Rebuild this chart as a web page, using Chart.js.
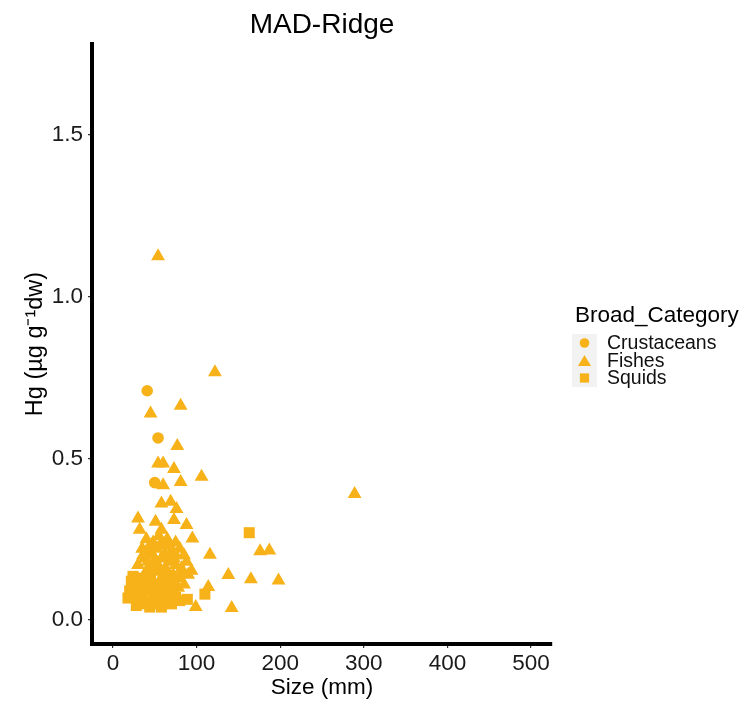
<!DOCTYPE html>
<html>
<head>
<meta charset="utf-8">
<script src="https://cdn.jsdelivr.net/npm/chart.js@4/dist/chart.umd.min.js"></script>
<style>
  html, body { margin: 0; padding: 0; background: #ffffff; }
  #wrap { width: 749px; height: 706px; position: relative; }
</style>
</head>
<body>
<div id="wrap"><canvas id="c" width="749" height="706"></canvas></div>
<script>
// ---- data ----
const chartTitle = "MAD-Ridge";
const legendTitle = "Broad_Category";
const categories = ["Crustaceans", "Fishes", "Squids"];
const xTickValues = [0, 100, 200, 300, 400, 500];
const yTickValues = [0.0, 0.5, 1.0, 1.5];

const crustSize = [41, 54, 50, 62, 44];
const crustHg   = [0.709, 0.563, 0.425, 0.20, 0.15];

const fishSize = [54, 122, 81, 45, 77, 54, 60, 73, 106, 60, 81, 58, 69, 76, 30, 51, 73, 88, 32, 58, 95, 289, 116, 176, 187, 94, 82, 138, 165, 198, 114, 99, 142,
                  40, 48, 55, 65, 75, 35, 45, 52, 62, 70, 80, 85, 38, 50, 58, 67, 75, 88, 42, 55, 63, 72, 80, 30, 46, 60, 68, 78, 35, 52, 85, 40,
                  44, 58, 68, 36, 48, 62, 73, 42, 54, 65, 48, 58, 70, 82, 90, 38, 75, 44, 64, 55];
const fishHg   = [1.125, 0.766, 0.663, 0.639, 0.538, 0.484, 0.484, 0.467, 0.443, 0.417, 0.427, 0.36, 0.366, 0.343, 0.314, 0.304, 0.309, 0.294, 0.279, 0.279, 0.252, 0.39, 0.202, 0.213, 0.215, 0.152, 0.149, 0.139, 0.126, 0.122, 0.102, 0.04, 0.037,
                  0.25, 0.24, 0.26, 0.25, 0.24, 0.22, 0.21, 0.22, 0.23, 0.21, 0.22, 0.2, 0.19, 0.18, 0.19, 0.18, 0.17, 0.18, 0.16, 0.15, 0.16, 0.14, 0.13, 0.17, 0.13, 0.12, 0.11, 0.1, 0.12, 0.1, 0.11, 0.09,
                  0.23, 0.24, 0.23, 0.2, 0.2, 0.2, 0.19, 0.18, 0.17, 0.14, 0.15, 0.13, 0.12, 0.16, 0.14, 0.14, 0.2, 0.11, 0.1, 0.08];

const squidSize = [163, 110, 89, 18, 20, 22, 24, 28, 30, 34, 38, 40, 44, 48, 52, 55, 58, 62, 65, 70, 75, 45, 60, 35,
                   26, 32, 42, 50, 56, 68, 72, 80, 28, 46];
const squidHg   = [0.27, 0.08, 0.064, 0.068, 0.09, 0.12, 0.135, 0.1, 0.06, 0.08, 0.05, 0.11, 0.04, 0.07, 0.05, 0.1, 0.04, 0.06, 0.085, 0.05, 0.07, 0.125, 0.12, 0.13,
                   0.075, 0.11, 0.09, 0.095, 0.065, 0.065, 0.09, 0.06, 0.045, 0.055];

// ---- styling ----
const pointColor = "#F6B218";
const toXY = (xs, ys) => xs.map((x, i) => ({ x: x, y: ys[i] }));
const shapes = ["circle", "triangle", "rect"];
const radii = [5.8, 8, 7.8];

const datasets = [
  { label: categories[0], data: toXY(crustSize, crustHg) },
  { label: categories[1], data: toXY(fishSize, fishHg) },
  { label: categories[2], data: toXY(squidSize, squidHg) }
].map((d, i) => Object.assign(d, {
  pointStyle: shapes[i],
  pointRadius: radii[i],
  pointHoverRadius: radii[i],
  backgroundColor: pointColor,
  borderColor: pointColor,
  borderWidth: 0,
  showLine: false
}));

const FONT = "'Liberation Sans', Arial, sans-serif";

const decorPlugin = {
  id: "decor",
  afterDraw(chart) {
    const ctx = chart.ctx;
    const ca = chart.chartArea;
    ctx.save();
    // title
    ctx.fillStyle = "#000";
    ctx.font = "28px " + FONT;
    ctx.textAlign = "center";
    ctx.textBaseline = "alphabetic";
    ctx.fillText(chartTitle, (ca.left + ca.right) / 2, 33);

    // legend
    ctx.textAlign = "left";
    ctx.font = "22.5px " + FONT;
    ctx.fillText(legendTitle, 575, 322);
    const ys = [343, 361, 378];
    ctx.fillStyle = "#F2F2F2";
    ctx.fillRect(572, 334, 25, 53);
    ctx.font = "19.5px " + FONT;
    ctx.textBaseline = "middle";
    for (let i = 0; i < categories.length; i++) {
      const cx = 584.5, cy = ys[i];
      ctx.fillStyle = pointColor;
      ctx.beginPath();
      if (i === 0) {
        ctx.arc(cx, cy, 4.8, 0, Math.PI * 2);
      } else if (i === 1) {
        ctx.moveTo(cx, cy - 6);
        ctx.lineTo(cx + 6.5, cy + 5);
        ctx.lineTo(cx - 6.5, cy + 5);
        ctx.closePath();
      } else {
        ctx.rect(cx - 4.6, cy - 4.6, 9.2, 9.2);
      }
      ctx.fill();
      ctx.fillStyle = "#111";
      ctx.fillText(categories[i], 607, cy + 1);
    }
    ctx.restore();
  }
};

new Chart(document.getElementById("c"), {
  type: "scatter",
  data: { datasets },
  options: {
    responsive: false,
    animation: false,
    events: [],
    layout: { padding: { left: 0, right: 197, top: 44, bottom: 0 } },
    plugins: {
      legend: { display: false },
      title: { display: false },
      tooltip: { enabled: false }
    },
    scales: {
      x: {
        type: "linear",
        min: -25,
        max: 525,
        afterFit(scale) { scale.height = 62; },
        afterBuildTicks(scale) { scale.ticks = xTickValues.map(v => ({ value: v })); },
        grid: { drawOnChartArea: false, drawTicks: true, tickLength: 4, color: "#333", lineWidth: 1.2 },
        border: { display: true, color: "#000", width: 4 },
        ticks: { color: "#1a1a1a", font: { family: FONT, size: 22.5 }, padding: 2, maxRotation: 0 },
        title: { display: true, text: "Size (mm)", color: "#000", font: { family: FONT, size: 22.5 }, padding: { top: 0, bottom: 5 } }
      },
      y: {
        type: "linear",
        min: -0.0742,
        max: 1.7814,
        afterFit(scale) { scale.width = 92; },
        afterBuildTicks(scale) { scale.ticks = yTickValues.map(v => ({ value: v })); },
        grid: { drawOnChartArea: false, drawTicks: true, tickLength: 4, color: "#333", lineWidth: 1.2 },
        border: { display: true, color: "#000", width: 4 },
        ticks: { color: "#1a1a1a", font: { family: FONT, size: 22.5 }, padding: 5, callback: v => v.toFixed(1) },
        title: { display: true, text: "Hg (µg g⁻¹dw)", color: "#000", font: { family: FONT, size: 23.5 }, padding: { top: 21, bottom: 0 } }
      }
    }
  },
  plugins: [decorPlugin]
});
</script>
</body>
</html>
